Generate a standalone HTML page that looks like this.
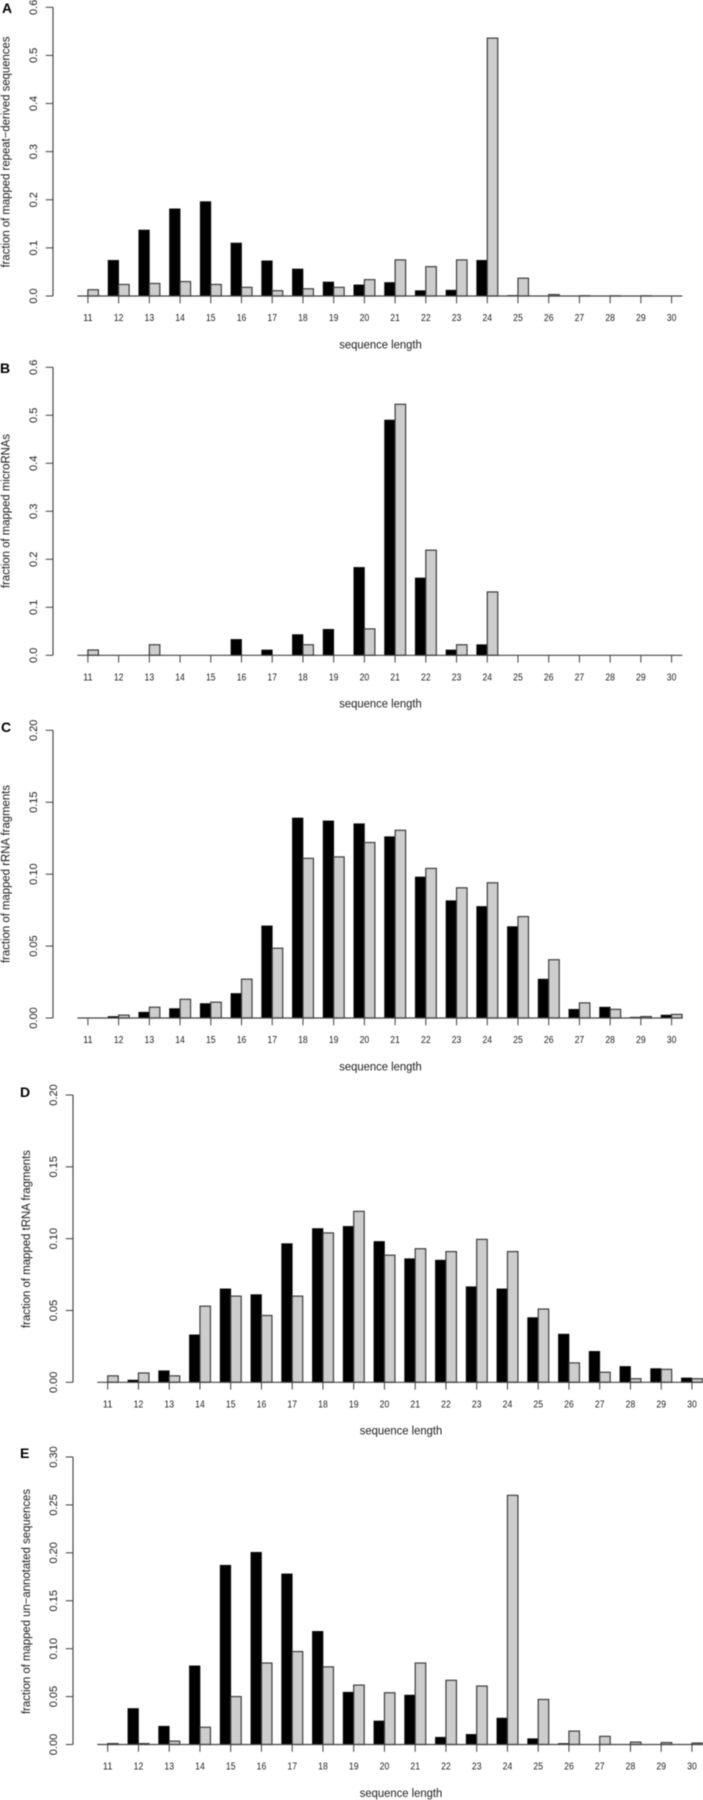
<!DOCTYPE html>
<html lang="en">
<head>
<meta charset="utf-8">
<title>Sequence length distributions</title>
<style>
html,body{margin:0;padding:0;background:#fff;}
body{width:703px;height:1800px;overflow:hidden;}
svg{display:block;filter:blur(0.4px);}
text{font-family:"Liberation Sans",sans-serif;fill:#1c1c1c;}
</style>
</head>
<body>
<svg id="figure" width="703" height="1800" viewBox="0 0 703 1800" xmlns="http://www.w3.org/2000/svg"></svg>
<script>
const categories = [11,12,13,14,15,16,17,18,19,20,21,22,23,24,25,26,27,28,29,30];

const ticksTenths = ["0.0","0.1","0.2","0.3","0.4","0.5","0.6"];
const ticksC = ["0.00","0.05","0.10","0.15","0.20"];
const ticksE = ["0.00","0.05","0.10","0.15","0.20","0.25","0.30"];

const blackA = [0,.074,.137,.181,.196,.11,.073,.056,.029,.023,.028,.011,.012,.074,.001,0,0,0,0,0];
const grayA  = [.013,.024,.026,.03,.024,.018,.011,.015,.018,.034,.075,.061,.075,.536,.037,.003,.0005,.0003,.0003,0];

const blackB = [0,0,0,0,0,.033,.011,.043,.054,.183,.49,.161,.011,.022,0,0,0,0,0,0];
const grayB  = [.011,0,.022,0,0,0,0,.022,0,.055,.523,.219,.022,.132,0,0,0,0,0,0];

const blackC = [0,.001,.004,.0065,.01,.017,.064,.139,.137,.135,.126,.098,.0815,.0775,.0635,.027,.006,.0075,.0005,.002];
const grayC  = [0,.002,.0075,.013,.011,.027,.0485,.111,.112,.122,.1305,.104,.0905,.094,.0705,.0405,.0105,.006,.001,.0025];

const blackD = [0,.0015,.008,.033,.065,.061,.0965,.107,.1085,.098,.086,.085,.0665,.065,.045,.0335,.0215,.011,.0095,.003];
const grayD  = [.0045,.0065,.0045,.053,.06,.0465,.06,.104,.119,.0885,.093,.091,.0995,.091,.051,.0135,.007,.0025,.009,.0025];

const blackE = [0,.0375,.019,.082,.187,.2005,.178,.118,.0545,.0245,.0515,.0075,.0105,.0275,.006,.001,0,0,0,0];
const grayE  = [.001,.001,.0035,.018,.05,.085,.097,.081,.062,.054,.085,.067,.061,.26,.047,.014,.0085,.0025,.002,.0015];

const NS = "http://www.w3.org/2000/svg";
const svg = document.getElementById("figure");
const BAR_W = 10.5;

function mk(tag, attrs, parent, txt) {
  const el = document.createElementNS(NS, tag);
  for (const k in attrs) el.setAttribute(k, attrs[k]);
  if (txt !== undefined) el.textContent = txt;
  parent.appendChild(el);
  return el;
}

function drawPanel(p) {
  const g = mk("g", {}, svg);
  
  

  const yMax = parseFloat(p.ticks[p.ticks.length - 1]);
  const yScale = v => p.y0 + (p.yTop - p.y0) * (v / yMax);
  const xScale = c => p.x11 + (c - categories[0]) * p.step;
  const stroke = "#3c3c3c";

  const letter = mk("text", {x: p.letterX, y: p.letterY, "font-size": 14, "font-weight": "bold", style: "fill:#000"}, g, p.letter);
  
  

  categories.forEach((c, i) => {
    const tick = mk("line", {x1: xScale(c), x2: xScale(c), y1: p.y0, y2: p.y0 + 7.3, stroke: stroke, "stroke-width": 1}, g);
    
    

    const lab = mk("text", {x: xScale(c), y: p.y0 + 25, "font-size": 10, "text-anchor": "middle", textLength: 9.6, lengthAdjust: "spacingAndGlyphs"}, g, String(c));
    
    

    const hb = yScale(0) - yScale(p.black[i]);
    const bBar = mk("rect", {x: xScale(c) - BAR_W, y: yScale(p.black[i]), width: BAR_W, height: hb, fill: "#000", stroke: "#111", "stroke-width": 0.8}, g);
    
    

    const hg = yScale(0) - yScale(p.gray[i]);
    const gBar = mk("rect", {x: xScale(c), y: yScale(p.gray[i]), width: BAR_W, height: hg, fill: "#cdcdcd", stroke: stroke, "stroke-width": 1.2}, g);
    
    
  });

  const base = mk("line", {x1: p.x11 - 10.5, x2: xScale(categories[categories.length - 1]) + 10.8, y1: p.y0, y2: p.y0, stroke: "#444", "stroke-width": 1.2}, g);
  
  

  const axis = mk("line", {x1: p.axisX, x2: p.axisX, y1: p.yTop, y2: p.y0, stroke: stroke, "stroke-width": 1.1}, g);
  
  

  p.ticks.forEach(t => {
    const y = yScale(parseFloat(t));
    const tk = mk("line", {x1: p.axisX - 7.3, x2: p.axisX, y1: y, y2: y, stroke: stroke, "stroke-width": 1}, g);
    
    

    const lx = p.axisX - 16;
    const lab = mk("text", {x: 0, y: 0, "font-size": 11, "text-anchor": "middle", transform: "translate(" + lx + "," + y + ") rotate(-90)"}, g, t);
    
    
  });

  const yt = mk("text", {x: 0, y: 0, "font-size": 11.5, "text-anchor": "middle", textLength: p.titleLen, lengthAdjust: "spacingAndGlyphs", transform: "translate(" + p.titleX + "," + p.titleY + ") rotate(-90)"}, g, p.title);
  
  

  const xt = mk("text", {x: p.xLabelX, y: p.y0 + 52.3, "font-size": 11.5, "text-anchor": "middle", textLength: 82.5, lengthAdjust: "spacingAndGlyphs"}, g, "sequence length");
  
  
}

drawPanel({letter:"A", letterX:2, letterY:13, y0:296, yTop:7.3, axisX:53, x11:87.9, step:30.72, ticks:ticksTenths, black:blackA, gray:grayA, title:"fraction of mapped repeat\u2212derived sequences", titleX:9.5, titleY:152, titleLen:231, xLabelX:380.5});
drawPanel({letter:"B", letterX:0, letterY:373, y0:655.3, yTop:367.3, axisX:53, x11:87.9, step:30.72, ticks:ticksTenths, black:blackB, gray:grayB, title:"fraction of mapped microRNAs", titleX:9.5, titleY:511, titleLen:154, xLabelX:380.5});
drawPanel({letter:"C", letterX:1, letterY:732, y0:1018, yTop:730.3, axisX:53, x11:87.9, step:30.72, ticks:ticksC, black:blackC, gray:grayC, title:"fraction of mapped rRNA fragments", titleX:9.5, titleY:874, titleLen:178, xLabelX:380.5});
drawPanel({letter:"D", letterX:20, letterY:1097, y0:1382.3, yTop:1095, axisX:73, x11:107.7, step:30.75, ticks:ticksC, black:blackD, gray:grayD, title:"fraction of mapped tRNA fragments", titleX:30, titleY:1239, titleLen:178, xLabelX:401});
drawPanel({letter:"E", letterX:20, letterY:1458, y0:1744.5, yTop:1457, axisX:73, x11:107.7, step:30.75, ticks:ticksE, black:blackE, gray:grayE, title:"fraction of mapped un\u2212annotated sequences", titleX:30, titleY:1601.5, titleLen:225, xLabelX:401});
</script>
</body>
</html>
